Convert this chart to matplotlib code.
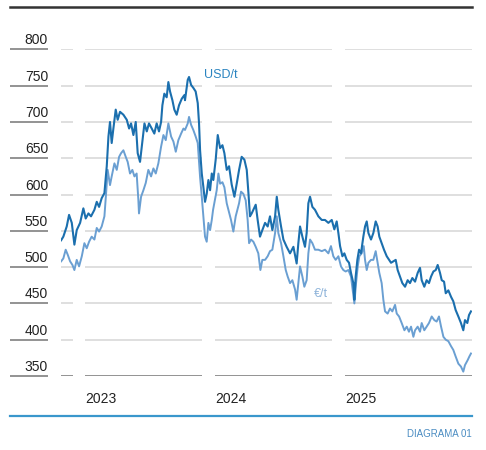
import matplotlib
matplotlib.use("Agg")
import matplotlib.pyplot as plt
from matplotlib.lines import Line2D
from matplotlib.transforms import blended_transform_factory

plt.rcParams['font.family'] = ['Liberation Sans', 'DejaVu Sans']

# Datos (anio decimal, precio)
usd_t = [2022.816, 2022.833, 2022.859, 2022.877, 2022.898, 2022.918, 2022.936, 2022.962, 2022.987, 2023.005,
         2023.026, 2023.046, 2023.072, 2023.090, 2023.108, 2023.128, 2023.149, 2023.167, 2023.180, 2023.192,
         2023.205, 2023.218, 2023.236, 2023.251, 2023.269, 2023.295, 2023.321, 2023.339, 2023.354, 2023.372,
         2023.390, 2023.405, 2023.423, 2023.441, 2023.457, 2023.475, 2023.492, 2023.513, 2023.533, 2023.551,
         2023.569, 2023.585, 2023.595, 2023.610, 2023.628, 2023.641, 2023.654, 2023.672, 2023.687, 2023.705,
         2023.723, 2023.744, 2023.764, 2023.769, 2023.790, 2023.800, 2023.816, 2023.833, 2023.851, 2023.867,
         2023.877, 2023.885, 2023.898, 2023.910, 2023.923, 2023.936, 2023.949, 2023.962, 2023.975, 2023.987,
         2024.005, 2024.021, 2024.039, 2024.057, 2024.072, 2024.090, 2024.108, 2024.128, 2024.149, 2024.167,
         2024.185, 2024.205, 2024.226, 2024.244, 2024.257, 2024.269, 2024.282, 2024.295, 2024.313, 2024.328,
         2024.346, 2024.364, 2024.385, 2024.405, 2024.423, 2024.441, 2024.462, 2024.475, 2024.487, 2024.508,
         2024.526, 2024.551, 2024.577, 2024.603, 2024.628, 2024.641, 2024.654, 2024.672, 2024.692, 2024.705,
         2024.718, 2024.731, 2024.749, 2024.769, 2024.795, 2024.821, 2024.846, 2024.872, 2024.898, 2024.918,
         2024.936, 2024.949, 2024.962, 2024.980, 2024.995, 2025.013, 2025.031, 2025.046, 2025.064, 2025.072,
         2025.082, 2025.095, 2025.108, 2025.123, 2025.141, 2025.154, 2025.167, 2025.180, 2025.200, 2025.218,
         2025.236, 2025.251, 2025.264, 2025.282, 2025.300, 2025.321, 2025.339, 2025.354, 2025.372, 2025.390,
         2025.405, 2025.423, 2025.441, 2025.462, 2025.482, 2025.500, 2025.518, 2025.539, 2025.559, 2025.577,
         2025.590, 2025.610, 2025.628, 2025.646, 2025.662, 2025.680, 2025.698, 2025.713, 2025.731, 2025.744,
         2025.762, 2025.775, 2025.795, 2025.816, 2025.833, 2025.851, 2025.872, 2025.892, 2025.910, 2025.923,
         2025.941, 2025.954, 2025.969]
usd_v = [537, 542, 556, 572, 561, 531, 551, 561, 581, 567,
         574, 570, 579, 590, 583, 595, 602, 639, 680, 700,
         671, 691, 717, 703, 714, 710, 703, 691, 698, 682,
         700, 657, 645, 673, 698, 687, 698, 691, 684, 698,
         687, 700, 723, 739, 734, 755, 742, 730, 717, 710,
         723, 732, 737, 730, 758, 762, 751, 747, 742, 726,
         698, 661, 629, 611, 590, 601, 620, 606, 629, 620,
         648, 682, 664, 668, 657, 634, 639, 614, 597, 615,
         634, 652, 648, 634, 602, 570, 574, 579, 586, 565,
         542, 551, 561, 556, 570, 551, 570, 597, 579, 556,
         538, 528, 519, 528, 505, 533, 556, 542, 528, 547,
         588, 597, 583, 579, 570, 565, 565, 561, 565, 552,
         563, 547, 529, 515, 519, 510, 506, 492, 478, 455,
         487, 510, 524, 519, 542, 556, 563, 547, 538, 547,
         563, 556, 542, 533, 524, 515, 510, 506, 508, 510,
         496, 487, 478, 473, 482, 478, 485, 480, 492, 499,
         482, 473, 482, 478, 487, 494, 496, 503, 492, 482,
         480, 464, 468, 459, 453, 441, 432, 423, 413, 427,
         423, 434, 439]

eur_t = [2022.816, 2022.833, 2022.851, 2022.867, 2022.885, 2022.903, 2022.918, 2022.936, 2022.954, 2022.975,
         2022.995, 2023.013, 2023.031, 2023.051, 2023.072, 2023.090, 2023.108, 2023.128, 2023.149, 2023.162,
         2023.174, 2023.192, 2023.205, 2023.226, 2023.244, 2023.262, 2023.277, 2023.295, 2023.313, 2023.328,
         2023.346, 2023.364, 2023.380, 2023.397, 2023.410, 2023.415, 2023.431, 2023.449, 2023.467, 2023.487,
         2023.508, 2023.526, 2023.544, 2023.564, 2023.585, 2023.603, 2023.621, 2023.641, 2023.662, 2023.680,
         2023.698, 2023.718, 2023.739, 2023.757, 2023.769, 2023.790, 2023.800, 2023.816, 2023.833, 2023.851,
         2023.867, 2023.885, 2023.898, 2023.910, 2023.923, 2023.936, 2023.949, 2023.962, 2023.975, 2023.985,
         2024.013, 2024.026, 2024.039, 2024.057, 2024.072, 2024.090, 2024.103, 2024.123, 2024.141, 2024.159,
         2024.185, 2024.200, 2024.218, 2024.236, 2024.251, 2024.262, 2024.277, 2024.295, 2024.313, 2024.333,
         2024.349, 2024.364, 2024.385, 2024.405, 2024.423, 2024.441, 2024.462, 2024.475, 2024.487, 2024.508,
         2024.526, 2024.544, 2024.559, 2024.577, 2024.595, 2024.616, 2024.628, 2024.641, 2024.654, 2024.672,
         2024.687, 2024.705, 2024.718, 2024.731, 2024.749, 2024.769, 2024.795, 2024.821, 2024.846, 2024.872,
         2024.892, 2024.910, 2024.928, 2024.949, 2024.969, 2024.987, 2025.005, 2025.026, 2025.046, 2025.059,
         2025.072, 2025.085, 2025.098, 2025.110, 2025.128, 2025.144, 2025.154, 2025.167, 2025.180, 2025.200,
         2025.218, 2025.236, 2025.251, 2025.264, 2025.282, 2025.295, 2025.308, 2025.328, 2025.346, 2025.364,
         2025.385, 2025.398, 2025.416, 2025.436, 2025.457, 2025.475, 2025.492, 2025.508, 2025.526, 2025.539,
         2025.559, 2025.577, 2025.590, 2025.610, 2025.628, 2025.646, 2025.667, 2025.687, 2025.705, 2025.723,
         2025.739, 2025.757, 2025.775, 2025.795, 2025.816, 2025.833, 2025.851, 2025.872, 2025.892, 2025.910,
         2025.923, 2025.944, 2025.957, 2025.969]
eur_v = [508, 512, 524, 517, 508, 503, 496, 510, 501, 515,
         533, 526, 535, 542, 538, 554, 549, 556, 570, 602,
         634, 613, 625, 643, 634, 652, 657, 661, 652, 645,
         629, 634, 625, 629, 593, 574, 597, 606, 616, 634,
         625, 636, 629, 643, 666, 682, 675, 698, 680, 673,
         659, 675, 684, 691, 689, 698, 707, 696, 689, 680,
         671, 624, 597, 570, 542, 535, 561, 551, 565, 579,
         606, 629, 615, 617, 610, 588, 579, 565, 549, 570,
         588, 604, 601, 592, 565, 533, 538, 535, 528, 519,
         496, 510, 510, 515, 522, 524, 547, 570, 547, 533,
         515, 496, 487, 478, 482, 469, 455, 478, 501, 487,
         473, 482, 519, 538, 533, 524, 524, 522, 524, 519,
         529, 515, 510, 515, 501, 496, 494, 496, 487, 469,
         450, 478, 501, 515, 519, 529, 510, 496, 506, 510,
         510, 522, 506, 492, 478, 455, 439, 436, 443, 439,
         448, 436, 432, 423, 413, 418, 411, 418, 404, 413,
         418, 411, 423, 413, 418, 423, 432, 427, 425, 432,
         418, 404, 400, 398, 391, 386, 377, 367, 363, 356,
         365, 372, 377, 381]

years = [2023, 2024, 2025]
y_ticks = [350, 400, 450, 500, 550, 600, 650, 700, 750, 800]

W, H = 486, 450
fig = plt.figure(figsize=(W / 100, H / 100), dpi=100)
ax = fig.add_axes([61 / W, 1 - 376 / H, 411 / W, (376 - 49.4) / H])
ax.set_xlim(2022.815, 2025.977)
ax.set_ylim(350, 800)
ax.axis('off')

x_fig_y_data = blended_transform_factory(fig.transFigure, ax.transData)
x_data_y_fig = blended_transform_factory(ax.transData, fig.transFigure)

# lineas de cuadricula con cortes antes de cada anio
segmentos = [(2022.815, years[0] - 0.092)] + [(y, y + 0.9) for y in years[:-1]] + [(years[-1], 2025.977)]
for v in y_ticks:
    col = '#8a8a8a' if v == 350 else '#dcdcdc'
    for a, b in segmentos:
        ax.plot([a, b], [v, v], color=col, lw=1.3, solid_capstyle='butt', zorder=1)
    ax.plot([10 / W, 48 / W], [v, v], color='#8a8a8a', lw=1.3, transform=x_fig_y_data,
            clip_on=False, solid_capstyle='butt')
    ax.annotate(str(v), xy=(48 / W, v), xycoords=x_fig_y_data, xytext=(0, 3.6),
                textcoords='offset points', ha='right', va='baseline', fontsize=10, color='#222222')

ax.plot(eur_t, eur_v, color='#6a9fd2', lw=1.4, zorder=2)
ax.plot(usd_t, usd_v, color='#1b6fae', lw=1.5, zorder=3)

ax.text(2023.915, 1 - 75 / H, 'USD/t', transform=x_data_y_fig, fontsize=9, color='#2a84c0',
        ha='left', va='center')
ax.text(2024.762, 1 - 294 / H, '€/t', transform=x_data_y_fig, fontsize=9, color='#8fb4da',
        ha='left', va='center')

for y in years:
    ax.text(y + 0.005, 1 - 399 / H, str(y), transform=x_data_y_fig, fontsize=10, color='#222222',
            ha='left', va='center')

fig.add_artist(Line2D([10 / W, 472 / W], [1 - 7 / H] * 2, color='#333333', lw=1.8))
fig.add_artist(Line2D([10 / W, 472 / W], [1 - 416 / H] * 2, color='#3a97cc', lw=1.6))
fig.text(472 / W, 1 - 434 / H, 'DIAGRAMA 01', fontsize=7, color='#4a8cc2', ha='right', va='center')

fig.savefig('out.png', dpi=100)
